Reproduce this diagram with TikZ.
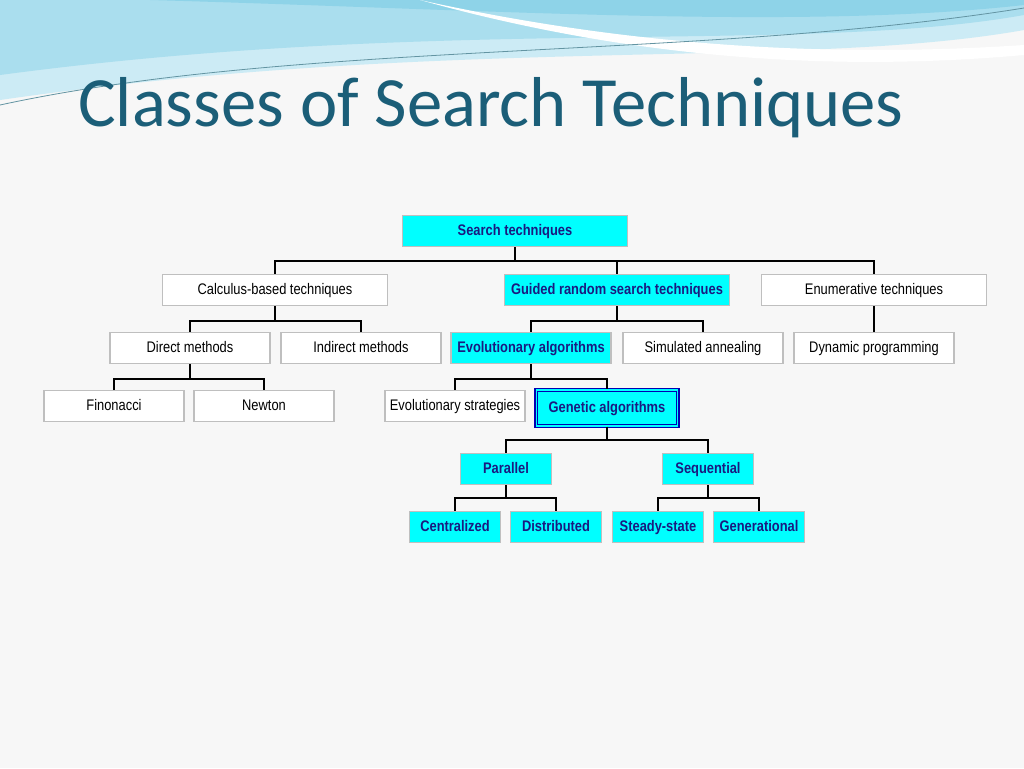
\documentclass[tikz,border=0pt]{standalone}
\usepackage{fontspec}
\setmainfont{Carlito}
\newfontfamily\boxfont[FakeStretch=0.84]{Liberation Sans}
\usetikzlibrary{positioning}
\definecolor{titleblue}{HTML}{1B5E78}
\definecolor{boxcyan}{HTML}{00FFFF}
\definecolor{boxnavy}{HTML}{1A1A80}
\definecolor{swoosh}{HTML}{8ED3E8}
\tikzset{
  plain/.style={rectangle, draw=black!25, line width=1pt, fill=white, minimum height=23.5pt,
    text height=8.5pt, text depth=2.5pt, font=\boxfont\fontsize{11.5}{13}\selectfont},
  hilite/.style={plain, fill=boxcyan, text=boxnavy, font=\boxfont\bfseries\fontsize{11.5}{13}\selectfont},
  tree/.style={draw, line width=1.3pt}
}
\begin{document}
\begin{tikzpicture}[x=0.75pt, y=-0.75pt]
\useasboundingbox (0,0) rectangle (1024,768);
\fill[black!3] (0,0) rectangle (1024,768);
% swooshes at the top
\fill[swoosh!45] (0,0) -- (1024,0) -- (1024,30) .. controls (800,70) and (450,35) .. (0,100) -- cycle;
\fill[swoosh!75] (0,0) -- (1024,0) -- (1024,15) .. controls (800,55) and (450,15) .. (0,75) -- cycle;
\fill[swoosh] (150,0) -- (1024,0) -- (1024,5) .. controls (800,30) and (500,10) .. (150,0) -- cycle;
\fill[white] (420,0) .. controls (600,40) and (800,60) .. (1024,45) -- (1024,55) .. controls (800,75) and (600,50) .. (420,0) -- cycle;
\draw[swoosh!70!black, line width=0.6pt] (0,105) .. controls (300,40) and (700,60) .. (1024,8);
\node[anchor=base west, text=titleblue, font=\fontsize{53}{60}\selectfont, inner sep=0pt] (title) at (78,126) {Classes of Search Techniques};

\node[hilite, minimum width=169pt] (search) at (515,231) {Search techniques};
\node[plain, minimum width=169pt] (calc) at (275,290) {Calculus-based techniques};
\node[hilite, minimum width=169pt] (guided) at (617,290) {Guided random search techniques};
\node[plain, minimum width=169pt] (enum) at (874,290) {Enumerative techniques};
\node[plain, minimum width=120pt] (direct) at (190,348) {Direct methods};
\node[plain, minimum width=120pt] (indirect) at (361,348) {Indirect methods};
\node[hilite, minimum width=120pt] (evoalg) at (531,348) {Evolutionary algorithms};
\node[plain, minimum width=120pt] (anneal) at (703,348) {Simulated annealing};
\node[plain, minimum width=120pt] (dynprog) at (874,348) {Dynamic programming};
\node[plain, minimum width=105pt] (fib) at (114,406) {Finonacci};
\node[plain, minimum width=105pt] (newton) at (264,406) {Newton};
\node[plain, minimum width=105pt] (evostrat) at (455,406) {Evolutionary strategies};
\node[hilite, minimum width=106pt, minimum height=27pt, draw=blue!70!black, double=boxcyan, double distance=1.2pt] (genetic) at (607,408) {Genetic algorithms};
\node[hilite, minimum width=68pt] (parallel) at (506,469) {Parallel};
\node[hilite, minimum width=68pt] (sequential) at (708,469) {Sequential};
\node[hilite, minimum width=68pt] (central) at (455,527) {Centralized};
\node[hilite, minimum width=68pt] (distrib) at (556,527) {Distributed};
\node[hilite, minimum width=68pt] (steady) at (658,527) {Steady-state};
\node[hilite, minimum width=68pt] (generation) at (759,527) {Generational};

\path[tree] (search.south) -- ++(0,14) -| (calc.north);
\path[tree] (search.south) -- ++(0,14) -| (guided.north);
\path[tree] (search.south) -- ++(0,14) -| (enum.north);
\path[tree] (calc.south) -- ++(0,15) -| (direct.north);
\path[tree] (calc.south) -- ++(0,15) -| (indirect.north);
\path[tree] (guided.south) -- ++(0,15) -| (evoalg.north);
\path[tree] (guided.south) -- ++(0,15) -| (anneal.north);
\path[tree] (enum.south) -- (dynprog.north);
\path[tree] (direct.south) -- ++(0,15) -| (fib.north);
\path[tree] (direct.south) -- ++(0,15) -| (newton.north);
\path[tree] (evoalg.south) -- ++(0,15) -| (evostrat.north);
\path[tree] (evoalg.south) -- ++(0,15) -| (genetic.north);
\path[tree] (genetic.south) -- ++(0,13) -| (parallel.north);
\path[tree] (genetic.south) -- ++(0,13) -| (sequential.north);
\path[tree] (parallel.south) -- ++(0,13) -| (central.north);
\path[tree] (parallel.south) -- ++(0,13) -| (distrib.north);
\path[tree] (sequential.south) -- ++(0,13) -| (steady.north);
\path[tree] (sequential.south) -- ++(0,13) -| (generation.north);
\end{tikzpicture}
\end{document}
